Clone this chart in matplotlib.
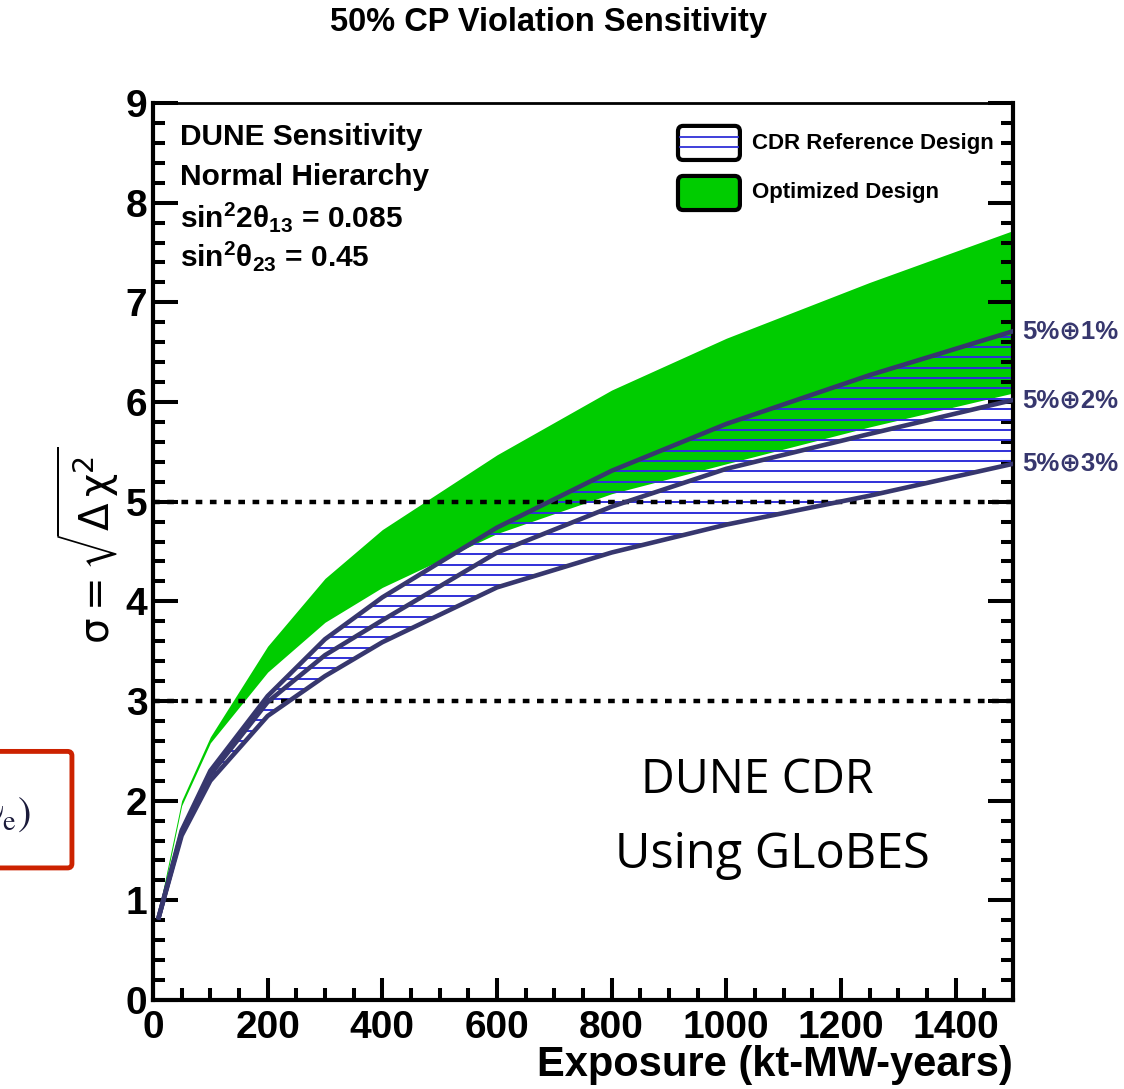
import numpy as np
import matplotlib
matplotlib.use('Agg')
import matplotlib.pyplot as plt
from matplotlib.patches import FancyBboxPatch
from matplotlib.ticker import MultipleLocator

plt.rcParams['font.family'] = ['Liberation Sans', 'DejaVu Sans']
plt.rcParams['mathtext.fontset'] = 'custom'
plt.rcParams['mathtext.rm'] = 'Liberation Sans:bold'
plt.rcParams['mathtext.default'] = 'rm'

# exposure points (kt-MW-years)
exposure = [10, 50, 100, 200, 300, 400, 600, 800, 1000, 1250, 1500]
# optimized design band
opt_upper = [0.90, 2.00, 2.64, 3.55, 4.23, 4.72, 5.47, 6.12, 6.64, 7.20, 7.72]
opt_lower = [0.85, 1.95, 2.58, 3.29, 3.79, 4.14, 4.68, 5.08, 5.38, 5.75, 6.09]
# CDR reference design, three systematics assumptions
cdr_1pct = [0.83, 1.70, 2.30, 3.05, 3.62, 4.04, 4.74, 5.31, 5.78, 6.27, 6.71]
cdr_2pct = [0.83, 1.68, 2.26, 2.99, 3.46, 3.81, 4.49, 4.95, 5.33, 5.68, 6.02]
cdr_3pct = [0.83, 1.65, 2.20, 2.85, 3.25, 3.59, 4.14, 4.49, 4.77, 5.06, 5.38]
curve_labels = ['5%\u22951%', '5%\u22952%', '5%\u22953%']
ref_levels = [3, 5]

green = '#00cc00'
navy = '#37376e'
hatch_blue = '#3030d8'

fig = plt.figure(figsize=(11.24, 10.89), dpi=100)
ax = fig.add_axes([0.1361, 0.0817, 0.7651, 0.8237])

ax.fill_between(exposure, opt_lower, opt_upper, color=green, lw=0, zorder=1)

# hatched CDR band: horizontal lines clipped to the band
band = ax.fill_between(exposure, cdr_3pct, cdr_1pct, facecolor='none', edgecolor='none', zorder=2)
hl = ax.hlines(np.arange(0.0, 9.0, 0.104), 0, 1500, colors=hatch_blue, lw=1.4, zorder=2)
hl.set_clip_path(band.get_paths()[0], band.get_transform())

for lev in ref_levels:
    ax.axhline(lev, color='black', lw=3.2, linestyle=(0, (1.5, 1.7)), zorder=3)

for ys, lab in zip([cdr_1pct, cdr_2pct, cdr_3pct], curve_labels):
    ax.plot(exposure, ys, color=navy, lw=3.3, zorder=4, solid_joinstyle='round')
    ax.text(1.011, ys[-1], lab, transform=ax.get_yaxis_transform(), color=navy,
            fontsize=18.5, fontweight='bold', ha='left', va='center',
            family=['Liberation Sans', 'DejaVu Sans'], clip_on=False)

ax.set_xlim(0, 1500)
ax.set_ylim(0, 9)
ax.xaxis.set_major_locator(MultipleLocator(200))
ax.xaxis.set_minor_locator(MultipleLocator(50))
ax.yaxis.set_major_locator(MultipleLocator(1))
ax.yaxis.set_minor_locator(MultipleLocator(0.2))
ax.tick_params(which='both', direction='in', right=True, top=False, width=2.9)
ax.tick_params(axis='y', which='major', length=18, pad=4)
ax.tick_params(axis='y', which='minor', length=8.5)
ax.tick_params(axis='x', which='major', length=16, pad=7)
ax.tick_params(axis='x', which='minor', length=8.5)
for lab in ax.get_xticklabels() + ax.get_yticklabels():
    lab.set_fontweight('bold')
    lab.set_fontsize(28)
for s in ['left', 'right', 'bottom']:
    ax.spines[s].set_linewidth(3)
ax.spines['top'].set_linewidth(2)

# text block top-left
info = ['DUNE Sensitivity', 'Normal Hierarchy',
        r'sin$^{2}$2$\theta_{13}$ = 0.085', r'sin$^{2}\theta_{23}$ = 0.45']
for i, t in enumerate(info):
    ax.text(0.031, 0.962 - i * 0.0443, t, transform=ax.transAxes, fontsize=21.5,
            fontweight='bold', ha='left', va='center')

# legend drawn by hand
box1 = FancyBboxPatch((0.6105, 0.9365), 0.072, 0.038, boxstyle='round,pad=0,rounding_size=0.006',
                      transform=ax.transAxes, facecolor='white', edgecolor='black', lw=3, zorder=5)
box2 = FancyBboxPatch((0.6105, 0.8807), 0.072, 0.038, boxstyle='round,pad=0,rounding_size=0.006',
                      transform=ax.transAxes, facecolor=green, edgecolor='black', lw=3, zorder=5)
ax.add_patch(box1)
ax.add_patch(box2)
for yy in [0.9505, 0.9617]:
    ax.plot([0.6125, 0.6805], [yy, yy], color=hatch_blue, lw=1.3, transform=ax.transAxes, zorder=6)
ax.text(0.6965, 0.9554, 'CDR Reference Design', transform=ax.transAxes, fontsize=16,
        fontweight='bold', ha='left', va='center')
ax.text(0.6965, 0.8997, 'Optimized Design', transform=ax.transAxes, fontsize=16,
        fontweight='bold', ha='left', va='center')

ax.text(0.703, 0.245, 'DUNE CDR', transform=ax.transAxes, fontsize=33.5,
        family='Open Sans', ha='center', va='center')
ax.text(0.72, 0.161, 'Using GLoBES', transform=ax.transAxes, fontsize=35,
        family='Open Sans', ha='center', va='center')

fig.text(548 / 1124, 1 - 22 / 1089, '50% CP Violation Sensitivity', fontsize=23.5,
         fontweight='bold', ha='center', va='center')
fig.text(1013 / 1124, 1 - 1065 / 1089, 'Exposure (kt-MW-years)', fontsize=30,
         fontweight='bold', ha='right', va='center')
fig.text(88 / 1124, 0.4995, r'$\sigma = \sqrt{\Delta\,\chi^{2}}$', fontsize=29,
         rotation=90, ha='center', va='center', math_fontfamily='dejavusans')

# cropped red box on the left edge
red_box = FancyBboxPatch((-0.03, 0.203), 0.094, 0.107, boxstyle='round,pad=0,rounding_size=0.004',
                         transform=fig.transFigure, facecolor='none', edgecolor='#cc2200', lw=3.5)
fig.patches.append(red_box)
fig.text(-0.014, 0.252, r'$\nu_e)$', fontsize=29, ha='left', va='center',
         math_fontfamily='stix', color='#1a1a3a')

fig.savefig('out.png', dpi=100)
